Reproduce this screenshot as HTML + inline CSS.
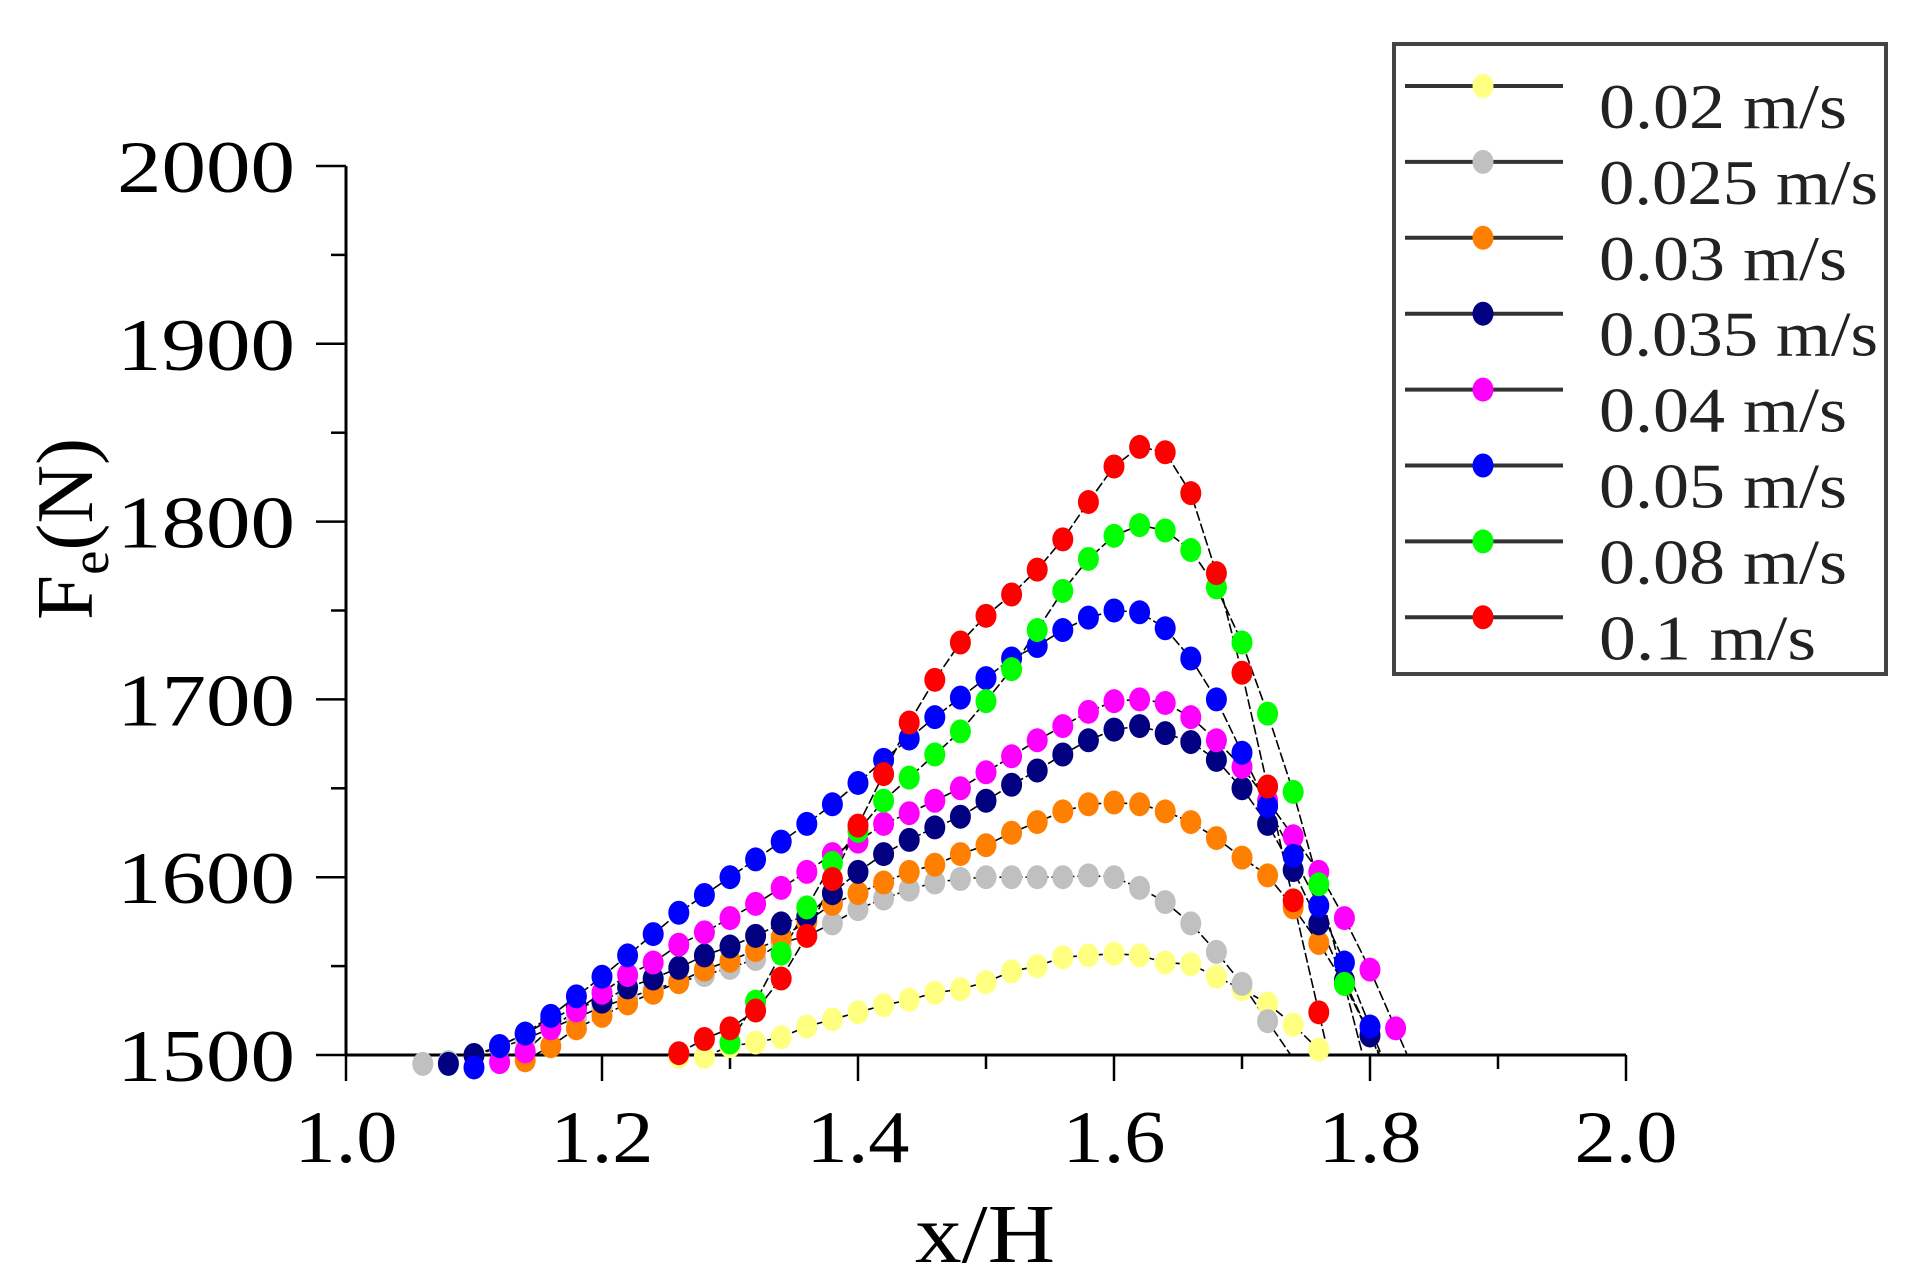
<!DOCTYPE html>
<html><head><meta charset="utf-8"><style>
html,body{margin:0;padding:0;background:#fff;}
svg{display:block;font-family:"Liberation Serif",serif;}
</style></head><body>
<svg id="chart" width="1916" height="1288" viewBox="0 0 1916 1288" xmlns="http://www.w3.org/2000/svg">
<defs><clipPath id="plotclip"><rect x="346" y="100" width="1290" height="955"/></clipPath></defs>
<g id="axes"></g>
<g id="lines" clip-path="url(#plotclip)"></g>
<g id="marks"></g>
<g id="legend"></g>
<text x="915" y="1262" font-size="84" textLength="140" lengthAdjust="spacingAndGlyphs">x/H</text>
<text transform="translate(92,620) rotate(-90)" font-size="80" textLength="182" lengthAdjust="spacingAndGlyphs">F<tspan font-size="54" dy="16">e</tspan><tspan dy="-16">(N)</tspan></text>
</svg>
<script>
const xTicks=[1.0,1.2,1.4,1.6,1.8,2.0];
const yTicks=[1500,1600,1700,1800,1900,2000];
const seriesNames=["0.02 m/s","0.025 m/s","0.03 m/s","0.035 m/s","0.04 m/s","0.05 m/s","0.08 m/s","0.1 m/s"];
const seriesColors=["#ffff80","#c0c0c0","#ff8000","#000080","#ff00ff","#0000ff","#00ff00","#ff0000"];
const xs02=[1.26,1.28,1.30,1.32,1.34,1.36,1.38,1.40,1.42,1.44,1.46,1.48,1.50,1.52,1.54,1.56,1.58,1.60,1.62,1.64,1.66,1.68,1.70,1.72,1.74,1.76];
const ys02=[1499,1499,1505,1507,1510,1516,1520,1524,1528,1531,1535,1537,1541,1547,1550,1555,1556,1557,1556,1552,1551,1544,1537,1529,1517,1503];
const xs025=[1.06,1.08,1.10,1.12,1.14,1.16,1.18,1.20,1.22,1.24,1.26,1.28,1.30,1.32,1.34,1.36,1.38,1.40,1.42,1.44,1.46,1.48,1.50,1.52,1.54,1.56,1.58,1.60,1.62,1.64,1.66,1.68,1.70,1.72];
const ys025=[1495,1496,1500,1504,1509,1515,1521,1527,1532,1537,1541,1545,1549,1554,1563,1567,1574,1582,1588,1593,1597,1599,1600,1600,1600,1600,1601,1600,1594,1586,1574,1558,1540,1519];
const xs03=[1.14,1.16,1.18,1.20,1.22,1.24,1.26,1.28,1.30,1.32,1.34,1.36,1.38,1.40,1.42,1.44,1.46,1.48,1.50,1.52,1.54,1.56,1.58,1.60,1.62,1.64,1.66,1.68,1.70,1.72,1.74,1.76,1.78,1.80];
const ys03=[1497,1505,1515,1522,1529,1535,1541,1548,1553,1559,1566,1575,1585,1591,1597,1603,1607,1613,1618,1625,1631,1637,1641,1642,1641,1637,1631,1622,1611,1601,1583,1563,1540,1511];
const xs035=[1.08,1.10,1.12,1.14,1.16,1.18,1.20,1.22,1.24,1.26,1.28,1.30,1.32,1.34,1.36,1.38,1.40,1.42,1.44,1.46,1.48,1.50,1.52,1.54,1.56,1.58,1.60,1.62,1.64,1.66,1.68,1.70,1.72,1.74,1.76,1.78,1.80];
const ys035=[1495,1500,1505,1512,1520,1527,1530,1538,1543,1549,1556,1561,1567,1574,1578,1591,1603,1613,1621,1628,1634,1643,1652,1660,1669,1677,1683,1685,1681,1676,1666,1650,1630,1604,1574,1542,1511];
const xs04=[1.12,1.14,1.16,1.18,1.20,1.22,1.24,1.26,1.28,1.30,1.32,1.34,1.36,1.38,1.40,1.42,1.44,1.46,1.48,1.50,1.52,1.54,1.56,1.58,1.60,1.62,1.64,1.66,1.68,1.70,1.72,1.74,1.76,1.78,1.80,1.82];
const ys04=[1496,1502,1515,1525,1535,1545,1552,1562,1569,1577,1585,1594,1603,1613,1620,1630,1636,1643,1650,1659,1668,1677,1685,1693,1699,1700,1698,1690,1677,1662,1643,1623,1603,1577,1548,1515];
const xs05=[1.10,1.12,1.14,1.16,1.18,1.20,1.22,1.24,1.26,1.28,1.30,1.32,1.34,1.36,1.38,1.40,1.42,1.44,1.46,1.48,1.50,1.52,1.54,1.56,1.58,1.60,1.62,1.64,1.66,1.68,1.70,1.72,1.74,1.76,1.78,1.80];
const ys05=[1493,1505,1512,1522,1533,1544,1556,1568,1580,1590,1600,1610,1620,1630,1641,1653,1666,1678,1690,1701,1712,1723,1730,1739,1746,1750,1749,1740,1723,1700,1670,1640,1612,1584,1552,1516];
const xs08=[1.30,1.32,1.34,1.36,1.38,1.40,1.42,1.44,1.46,1.48,1.50,1.52,1.54,1.56,1.58,1.60,1.62,1.64,1.66,1.68,1.70,1.72,1.74,1.76,1.78];
const ys08=[1507,1530,1557,1583,1608,1626,1643,1656,1669,1682,1699,1717,1739,1761,1779,1792,1798,1795,1784,1763,1732,1692,1648,1596,1540];
const xs1=[1.26,1.28,1.30,1.32,1.34,1.36,1.38,1.40,1.42,1.44,1.46,1.48,1.50,1.52,1.54,1.56,1.58,1.60,1.62,1.64,1.66,1.68,1.70,1.72,1.74,1.76];
const ys1=[1501,1509,1515,1525,1543,1567,1599,1629,1658,1687,1711,1732,1747,1759,1773,1790,1811,1831,1842,1839,1816,1771,1715,1651,1587,1524];
const allX=[xs02,xs025,xs03,xs035,xs04,xs05,xs08,xs1];
const allY=[ys02,ys025,ys03,ys035,ys04,ys05,ys08,ys1];

const NS="http://www.w3.org/2000/svg";
const X0=346,X1=1626,Y0=1055,Y1=166;
function sx(v){return X0+(v-1.0)/(2.0-1.0)*(X1-X0);}
function sy(v){return Y0-(v-1500)/(2000-1500)*(Y0-Y1);}
function mk(tag,attrs,parent){const e=document.createElementNS(NS,tag);for(const k in attrs)e.setAttribute(k,attrs[k]);parent.appendChild(e);return e;}
function tlen(s){let w=0;for(const c of s)w+=(c==='.')?14:44.5;return w;}
const axes=document.getElementById('axes');
let e;
e=mk('line',{x1:X0,y1:Y1,x2:X0,y2:Y0+1,stroke:'#000','stroke-width':3},axes);


e=mk('line',{x1:X0-1,y1:Y0,x2:X1,y2:Y0,stroke:'#000','stroke-width':3},axes);


for(let i=0;i<xTicks.length;i++){
  const x=sx(xTicks[i]);
  e=mk('line',{x1:x,y1:Y0,x2:x,y2:Y0+26,stroke:'#000','stroke-width':2.5},axes);
  
  
  if(i<xTicks.length-1){
    const xm=sx(xTicks[i]+0.1);
    e=mk('line',{x1:xm,y1:Y0,x2:xm,y2:Y0+14,stroke:'#000','stroke-width':2.5},axes);
    
    
  }
  const s=xTicks[i].toFixed(1);
  const L=tlen(s);
  e=mk('text',{x:x-L/2,y:1162,'font-size':74,textLength:L,lengthAdjust:'spacingAndGlyphs'},axes);
  e.textContent=s;
  
  
}
for(let i=0;i<yTicks.length;i++){
  const y=sy(yTicks[i]);
  e=mk('line',{x1:X0-30,y1:y,x2:X0,y2:y,stroke:'#000','stroke-width':2.5},axes);
  
  
  if(i<yTicks.length-1){
    const ym=sy(yTicks[i]+50);
    e=mk('line',{x1:X0-15,y1:ym,x2:X0,y2:ym,stroke:'#000','stroke-width':2.5},axes);
    
    
  }
  const s=String(yTicks[i]);
  const L=tlen(s);
  e=mk('text',{x:295-L,y:y+26,'font-size':74,textLength:L,lengthAdjust:'spacingAndGlyphs'},axes);
  e.textContent=s;
  
  
}
const lines=document.getElementById('lines'),marks=document.getElementById('marks');
for(let s=0;s<allX.length;s++){
  const xa=allX[s],ya=allY[s];const n=xa.length;
  let pts=xa.map((x,i)=>sx(x)+','+sy(ya[i]));
  const dx=xa[n-1]-xa[n-2],dy=ya[n-1]-ya[n-2];
  if(dy<0){const t=(1500-ya[n-1])/dy;pts.push(sx(xa[n-1]+dx*t)+','+sy(1500));}
  e=mk('polyline',{points:pts.join(' '),fill:'none',stroke:'#000','stroke-width':1.6,'stroke-dasharray':'10,3'},lines);
  
  
}
for(let s=0;s<allX.length;s++){
  const g=mk('g',{},marks);
  
  
  for(let i=0;i<allX[s].length;i++){
    e=mk('ellipse',{cx:sx(allX[s][i]),cy:sy(allY[s][i]),rx:10.5,ry:12,fill:seriesColors[s]},g);
    
    
  }
}
const lg=document.getElementById('legend');
e=mk('rect',{x:1394,y:44,width:492,height:630,fill:'#fff',stroke:'#444','stroke-width':4},lg);


for(let s=0;s<seriesNames.length;s++){
  const y=86+s*75.9;
  const g=mk('g',{},lg);
  
  
  mk('line',{x1:1405,y1:y,x2:1563,y2:y,stroke:'#333','stroke-width':4},g);
  mk('ellipse',{cx:1483,cy:y,rx:10.5,ry:12,fill:seriesColors[s]},g);
  const L=seriesNames[s].length*31;
  const t=mk('text',{x:1599,y:y+42,'font-size':64,fill:'#222',textLength:L,lengthAdjust:'spacingAndGlyphs'},g);
  t.textContent=seriesNames[s];
}
</script>
</body></html>
